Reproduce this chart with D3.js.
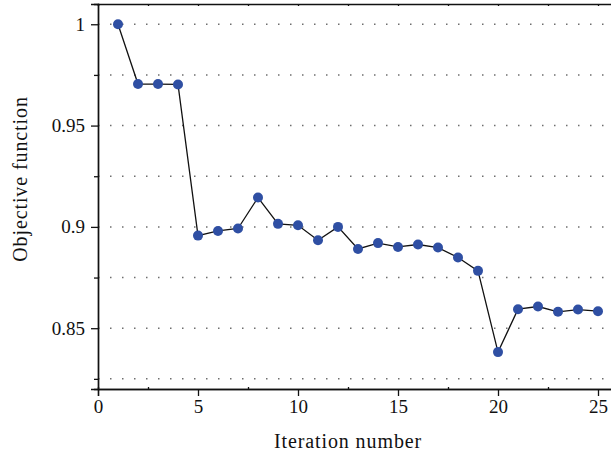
<!DOCTYPE html>
<html>
<head>
<meta charset="utf-8">
<script src="https://cdn.jsdelivr.net/npm/d3@7"></script>
<style>
  body { margin: 0; background: #ffffff; }
  svg text { font-family: "Liberation Serif", serif !important; fill: #111; }
</style>
</head>
<body>
<div id="chart"></div>
<script>
var iterations = [1, 2, 3, 4, 5, 6, 7, 8, 9, 10, 11, 12, 13, 14, 15, 16, 17, 18, 19, 20, 21, 22, 23, 24, 25];
var objective = [1.0, 0.9705, 0.9705, 0.9703, 0.8957, 0.8980, 0.8992, 0.9145, 0.9015, 0.9008,
                 0.8934, 0.9000, 0.8891, 0.8920, 0.8901, 0.8913, 0.8898, 0.8849, 0.8783, 0.8382,
                 0.8594, 0.8607, 0.8581, 0.8592, 0.8584];
var xTicks = [0, 5, 10, 15, 20, 25];
var xMinorTicks = [2.5, 7.5, 12.5, 17.5, 22.5];
var yTicks = [0.85, 0.9, 0.95, 1];
var yMinorTicks = [0.825, 0.875, 0.925, 0.975];
var yGrid = [0.825, 0.85, 0.875, 0.9, 0.925, 0.95, 0.975, 1.0];

var width = 611, height = 456;
var plotLeft = 98, plotRight = 618, plotTop = 4, plotBottom = 389;

var x = d3.scaleLinear().domain([0, 26]).range([plotLeft, plotRight]);
var y = d3.scaleLinear().domain([0.82, 1.01]).range([plotBottom, plotTop]);

var svg = d3.select("#chart").append("svg")
  .attr("width", width)
  .attr("height", height);

// dotted grid
svg.append("g").selectAll("line")
  .data(yGrid)
  .enter().append("line")
  .attr("x1", plotLeft)
  .attr("x2", plotRight)
  .attr("y1", function(d) { return y(d); })
  .attr("y2", function(d) { return y(d); })
  .attr("stroke", "#6e6e6e")
  .attr("stroke-width", 1.5)
  .attr("stroke-dasharray", "1.5 10.5");

// bottom axis, major ticks out and minor ticks in
svg.append("g")
  .attr("transform", "translate(0," + plotBottom + ")")
  .call(d3.axisBottom(x).tickValues(xTicks).tickSize(7).tickPadding(4).tickFormat(d3.format("d")))
  .call(styleAxis);

svg.append("g")
  .attr("transform", "translate(0," + plotBottom + ")")
  .call(d3.axisTop(x).tickValues(xMinorTicks).tickSize(2).tickFormat(""))
  .call(styleAxis);

// top axis
svg.append("g")
  .attr("transform", "translate(0," + plotTop + ")")
  .call(d3.axisBottom(x).tickValues(xTicks.concat(xMinorTicks)).tickSize(2).tickFormat(""))
  .call(styleAxis);

// left axis
svg.append("g")
  .attr("transform", "translate(" + plotLeft + ",0)")
  .call(d3.axisLeft(y).tickValues(yTicks).tickSize(7).tickPadding(6).tickFormat(d3.format("")))
  .call(styleAxis);

svg.append("g")
  .attr("transform", "translate(" + plotLeft + ",0)")
  .call(d3.axisLeft(y).tickValues(yMinorTicks).tickSize(4).tickFormat(""))
  .call(styleAxis);

function styleAxis(g) {
  g.attr("font-family", null);
  g.select(".domain").attr("stroke", "#111").attr("stroke-width", 1.4);
  g.selectAll(".tick line").attr("stroke", "#111").attr("stroke-width", 1.3);
  g.selectAll(".tick text")
    .attr("font-size", 19)
    .attr("fill", "#111");
}

// series line
var line = d3.line()
  .x(function(d, i) { return x(iterations[i]); })
  .y(function(d) { return y(d); });

svg.append("path")
  .datum(objective)
  .attr("d", line)
  .attr("fill", "none")
  .attr("stroke", "#111")
  .attr("stroke-width", 1.3);

svg.append("g").selectAll("circle")
  .data(objective)
  .enter().append("circle")
  .attr("cx", function(d, i) { return x(iterations[i]); })
  .attr("cy", function(d) { return y(d); })
  .attr("r", 5)
  .attr("fill", "#2f4fa3");

// axis titles
svg.append("text")
  .attr("x", 348)
  .attr("y", 448)
  .attr("text-anchor", "middle")
  .attr("font-size", 20)
  .attr("letter-spacing", 0.9)
  .text("Iteration number");

svg.append("text")
  .attr("transform", "translate(27,179) rotate(-90)")
  .attr("text-anchor", "middle")
  .attr("font-size", 20)
  .attr("letter-spacing", 0.9)
  .text("Objective function");
</script>
</body>
</html>
